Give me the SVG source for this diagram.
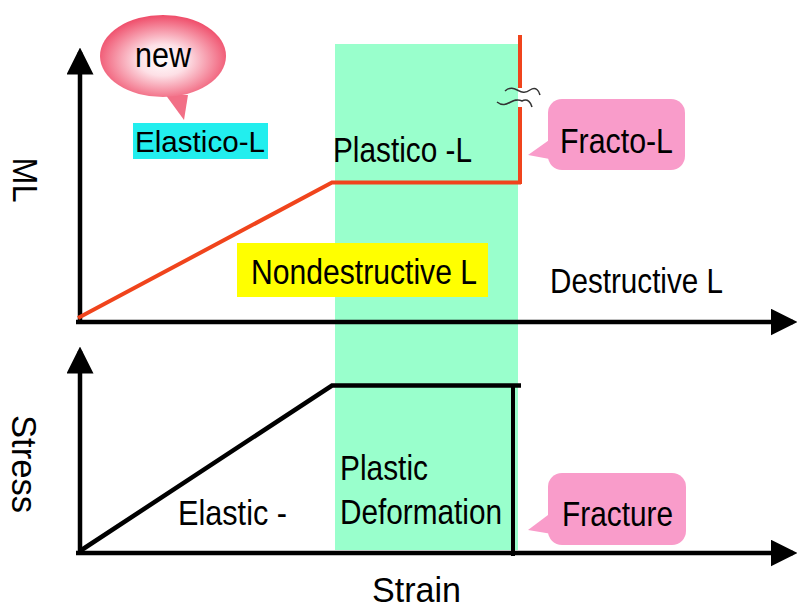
<svg xmlns="http://www.w3.org/2000/svg" width="797" height="610" viewBox="0 0 797 610">
<style>
text{font-family:"Liberation Sans",Arial,sans-serif;fill:#000}
.ax{stroke:#000;stroke-width:4.5;fill:none}
.pink{fill:#f99cca}
.t{font-size:35px}
</style>
<defs>
<marker id="ah" markerWidth="6" markerHeight="6" refX="5" refY="3" orient="auto" markerUnits="strokeWidth" viewBox="0 0 6 6">
<path d="M0,0 L6,3 L0,6 Z" fill="#000"/>
</marker>
<radialGradient id="rg" cx="0.5" cy="0.55" r="0.55">
<stop offset="0" stop-color="#ffffff"/>
<stop offset="0.35" stop-color="#fde0e6"/>
<stop offset="1" stop-color="#ef4b68"/>
</radialGradient>
</defs>
<rect x="0" y="0" width="797" height="610" fill="#fff"/>
<g id="plastic-zone"><rect x="335" y="44" width="183" height="506" fill="#99ffcc"/></g>
<g id="connectors">
<line class="ax" x1="80" y1="324" x2="80" y2="52" marker-end="url(#ah)"/>
<line class="ax" x1="76" y1="322" x2="793" y2="322" marker-end="url(#ah)"/>
<line class="ax" x1="80" y1="555" x2="80" y2="351" marker-end="url(#ah)"/>
<line class="ax" x1="76" y1="553" x2="793" y2="553" marker-end="url(#ah)"/>
<polyline points="78,318 332,182.5 521,182.5" fill="none" stroke="#f0441c" stroke-width="4"/>
<line x1="520" y1="35" x2="520" y2="88" stroke="#f0441c" stroke-width="4"/>
<line x1="520" y1="107" x2="520" y2="184" stroke="#f0441c" stroke-width="4"/>
<path d="M505,91 C515,82 520,98 530,90 C536,86 539,91 540,95" fill="none" stroke="#333" stroke-width="1.5"/>
<path d="M497,102 C507,110 512,96 522,101 C528,98 531,103 532,107" fill="none" stroke="#333" stroke-width="1.5"/>
<polyline points="80,551 332,385.5 521,385.5" fill="none" stroke="#000" stroke-width="4.5"/>
<line x1="513" y1="384" x2="513" y2="556" stroke="#000" stroke-width="4"/>
</g>
<g id="new">
<path d="M165,94 L184,120 L188,95 Z" fill="#f26f86"/>
<ellipse cx="163" cy="56" rx="63" ry="41" fill="url(#rg)"/>
<text x="163" y="67" text-anchor="middle" class="t" textLength="56" lengthAdjust="spacingAndGlyphs">new</text>
</g>
<g id="elastico-l">
<rect x="133" y="123" width="135" height="36" fill="#22eeee"/>
<text x="135" y="152" font-size="29" textLength="130" lengthAdjust="spacingAndGlyphs">Elastico-L</text>
</g>
<g id="plastico-l"><text x="333" y="162" class="t" textLength="139" lengthAdjust="spacingAndGlyphs">Plastico -L</text></g>
<g id="fracto-l">
<path d="M552,138 L528,155 L555,160 Z" class="pink"/>
<rect x="548" y="99" width="137" height="71" rx="14" class="pink"/>
<text x="560" y="153" class="t" textLength="113" lengthAdjust="spacingAndGlyphs">Fracto-L</text>
</g>
<g id="nondestructive-l">
<rect x="237" y="243" width="251" height="54" fill="#ffff00"/>
<text x="251" y="284" class="t" textLength="226" lengthAdjust="spacingAndGlyphs">Nondestructive L</text>
</g>
<g id="destructive-l"><text x="550" y="293" class="t" textLength="173" lengthAdjust="spacingAndGlyphs">Destructive L</text></g>
<g id="ml-label"><text transform="translate(13,180) rotate(90)" text-anchor="middle" class="t" textLength="45" lengthAdjust="spacingAndGlyphs">ML</text></g>
<g id="stress-label"><text transform="translate(12,464) rotate(90)" text-anchor="middle" class="t" textLength="98" lengthAdjust="spacingAndGlyphs">Stress</text></g>
<g id="elastic"><text x="178" y="525" class="t" textLength="109" lengthAdjust="spacingAndGlyphs">Elastic -</text></g>
<g id="plastic-deformation">
<text x="340" y="480" class="t" textLength="88" lengthAdjust="spacingAndGlyphs">Plastic</text>
<text x="340" y="524" class="t" textLength="162" lengthAdjust="spacingAndGlyphs">Deformation</text>
</g>
<g id="fracture">
<path d="M552,512 L528,530 L558,535 Z" class="pink"/>
<rect x="548" y="473" width="138" height="72" rx="14" class="pink"/>
<text x="562" y="526" class="t" textLength="111" lengthAdjust="spacingAndGlyphs">Fracture</text>
</g>
<g id="strain"><text x="372" y="602" class="t" textLength="89" lengthAdjust="spacingAndGlyphs">Strain</text></g>
</svg>
